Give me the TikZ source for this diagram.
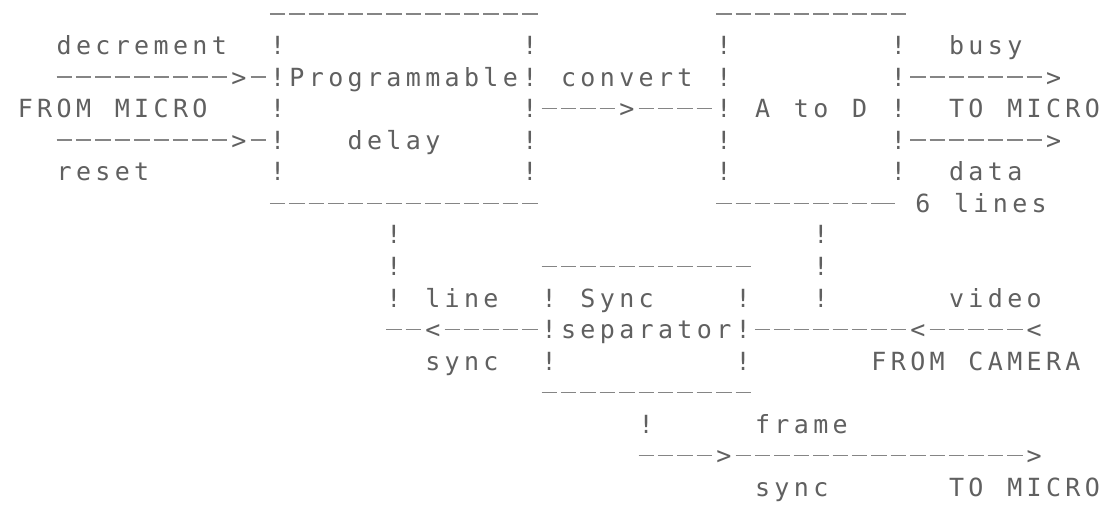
\documentclass[tikz,border=0pt]{standalone}
\usepackage{fontspec}
\newfontfamily\dotmono{DejaVu Sans Mono}
\definecolor{ink}{HTML}{606060}
\definecolor{rule}{HTML}{858585}
\newcommand{\dotfont}{\dotmono\fontsize{25pt}{25pt}\selectfont}
% monospaced cells of the printer's pitch
\newcommand{\spaced}[1]{\spacedi#1\relax}
\def\spacedi#1{\ifx#1\relax\else\makebox[19.4pt][c]{#1}\expandafter\spacedi\fi}
% text on the character grid: name, row, column, text
\newcommand{\T}[4]{\node[ch] (#1) at ({15.7+19.4*(#3)},{14+31.55*(#2)}) {\spaced{#4}};}
% run of dashes: name, row, first column, last column
\newcommand{\D}[4]{%
  \coordinate (#1-s) at ({17.7+19.4*(#3)},{14+31.55*(#2)});
  \coordinate (#1-e) at ({13.7+19.4*(#4+1)},{14+31.55*(#2)});
  \draw[dashline] (#1-s) -- (#1-e);}
\begin{document}
\begin{tikzpicture}[x=1pt,y=-1pt,
  ch/.style={inner sep=0pt, outer sep=0pt, anchor=west, text height=18.2pt,
             text depth=0pt, text=ink, font=\dotfont},
  dashline/.style={draw=rule, line width=1.5pt, dash pattern=on 15.4pt off 4pt}]
\useasboundingbox[fill=white] (0,0) rectangle (1100,510);

% ---- Programmable delay box and A to D box
\D{pdtop}{0}{13}{26}
\D{adtop}{0}{36}{45}
\D{pdbot}{6}{13}{26}
\D{adbot}{6}{36}{44}
\draw[dashline] (adbot-e) -- ++(8,0);
\foreach \r in {1,...,5}{
  \T{pdl\r}{\r}{13}{!}
  \T{pdr\r}{\r}{26}{!}
  \T{adl\r}{\r}{36}{!}
  \T{adr\r}{\r}{45}{!}
}
\T{pd1}{2}{14}{Programmable}
\T{pd2}{4}{17}{delay}
\T{ad}{3}{38}{A~to~D}

% ---- inputs from micro
\T{dec}{1}{2}{decrement}
\D{inA1}{2}{2}{10}
\T{inA}{2}{11}{>}
\D{inA2}{2}{12}{12}
\T{fm}{3}{0}{FROM~MICRO}
\D{inB1}{4}{2}{10}
\T{inB}{4}{11}{>}
\D{inB2}{4}{12}{12}
\T{rst}{5}{2}{reset}

% ---- convert
\T{conv}{2}{28}{convert}
\D{cv1}{3}{27}{30}
\T{cvh}{3}{31}{>}
\D{cv2}{3}{32}{35}

% ---- outputs to micro
\T{busy}{1}{48}{busy}
\D{outA}{2}{46}{52}
\T{outAh}{2}{53}{>}
\T{tm1}{3}{48}{TO~MICRO}
\D{outB}{4}{46}{52}
\T{outBh}{4}{53}{>}
\T{data}{5}{48}{data}
\node[ch] (six) at ({20.7+19.4*46},{14+31.55*6}) {\spaced{6~lines}};

% ---- vertical links
\foreach \r in {7,8,9}{
  \T{vl\r}{\r}{19}{!}
  \T{vr\r}{\r}{41}{!}
}

% ---- Sync separator box
\D{sstop}{8}{27}{37}
\D{ssbot}{12}{27}{37}
\foreach \r in {9,10,11}{
  \T{ssl\r}{\r}{27}{!}
  \T{ssr\r}{\r}{37}{!}
}
\T{ss1}{9}{29}{Sync}
\T{ss2}{10}{28}{separator}

% ---- line sync
\T{line}{9}{21}{line}
\D{ls1}{10}{19}{20}
\T{lsh}{10}{21}{<}
\D{ls2}{10}{22}{26}
\T{sync1}{11}{21}{sync}

% ---- video from camera
\T{video}{9}{48}{video}
\D{vd1}{10}{38}{45}
\T{vdh1}{10}{46}{<}
\D{vd2}{10}{47}{51}
\T{vdh2}{10}{52}{<}
\T{fc}{11}{44}{FROM~CAMERA}

% ---- frame sync
\T{fl}{13}{32}{!}
\T{frame}{13}{38}{frame}
\D{fs1}{14}{32}{35}
\T{fsh1}{14}{36}{>}
\D{fs2}{14}{37}{51}
\T{fsh2}{14}{52}{>}
\T{sync2}{15}{38}{sync}
\T{tm2}{15}{48}{TO~MICRO}
\end{tikzpicture}
\end{document}
